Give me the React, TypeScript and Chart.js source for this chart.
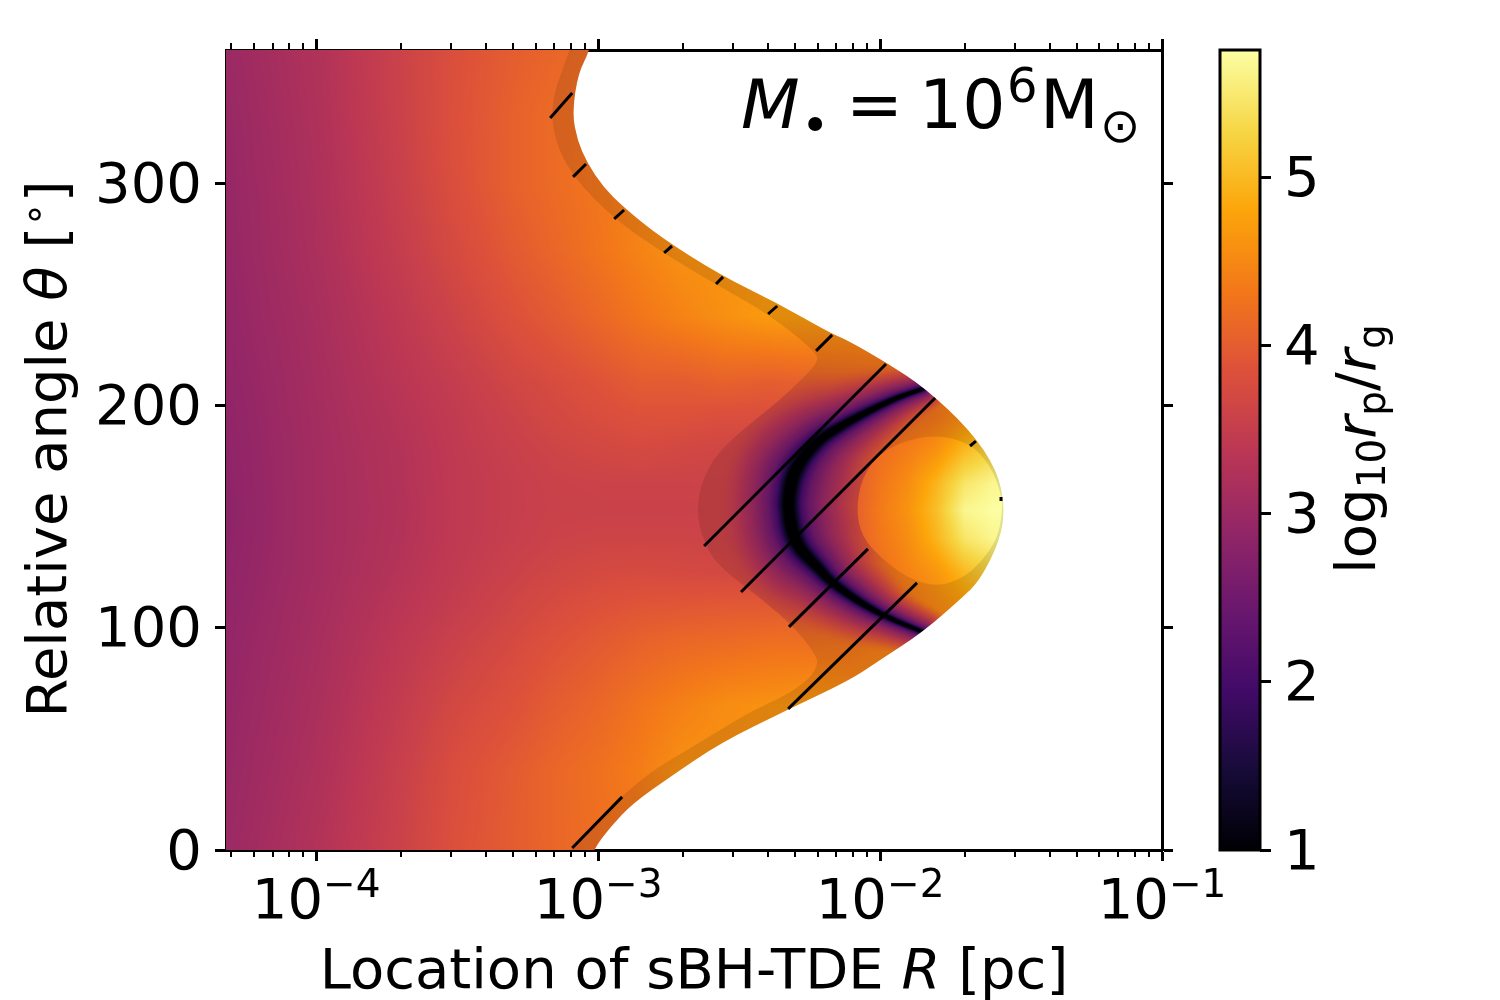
import React, { useEffect, useRef } from "react";
import { Chart, registerables } from "chart.js";

Chart.register(...registerables);

const X_MIN_LOG = -4.32;
const X_MAX_LOG = -1;
const Y_MAX = 360;
const CB_MIN = 1;
const CB_MAX = 5.76;
const X_MAJOR_EXP = [-4, -3, -2, -1];
const X_MINOR_MULT = [2, 3, 4, 5, 6, 7, 8, 9];
const Y_TICKS = [0, 100, 200, 300];
const CB_TICKS = [1, 2, 3, 4, 5];

// Inferno colour stops (evenly spaced)
const INFERNO = [
  [0, 0, 4], [22, 11, 57], [66, 10, 104], [106, 23, 110], [147, 38, 103], [188, 55, 84],
  [221, 81, 58], [243, 120, 25], [252, 165, 10], [246, 215, 70], [252, 255, 164],
];

// log10 r_p / r_g: columns are log10 R, rows are theta
const FIELD_LOGR = [-4.32, -4, -3.7, -3.5, -3.3, -3.15, -3, -2.85, -2.7, -2.55, -2.4, -2.25, -2.1, -2, -1.9, -1.8, -1.7, -1.6, -1.5];
const FIELD_THETA = [370, 330, 300, 270, 240, 210, 195, 180, 165, 153, 140, 125, 110, 95, 65, 35, -10];
const FIELD_VALUES = [
  [3.0, 3.25, 3.6, 3.82, 4.0, 4.08, 4.2, 4.25, 4.25, 4.25, 4.25, 4.25, 4.25, 4.25, 4.25, 4.25, 4.25, 4.25, 4.25],
  [2.96, 3.22, 3.58, 3.84, 4.05, 4.18, 4.28, 4.35, 4.35, 4.35, 4.35, 4.35, 4.35, 4.35, 4.35, 4.35, 4.35, 4.35, 4.35],
  [2.94, 3.2, 3.55, 3.82, 4.05, 4.18, 4.3, 4.45, 4.5, 4.5, 4.5, 4.5, 4.5, 4.5, 4.5, 4.5, 4.5, 4.5, 4.5],
  [2.93, 3.18, 3.5, 3.74, 3.97, 4.12, 4.28, 4.45, 4.6, 4.65, 4.65, 4.65, 4.65, 4.65, 4.65, 4.65, 4.65, 4.65, 4.65],
  [2.91, 3.14, 3.42, 3.62, 3.84, 3.98, 4.13, 4.3, 4.45, 4.58, 4.7, 4.72, 4.7, 4.7, 4.7, 4.7, 4.7, 4.7, 4.7],
  [2.88, 3.11, 3.35, 3.5, 3.66, 3.76, 3.87, 3.98, 3.98, 4.05, 4.0, 4.05, 4.1, 4.15, 4.2, 4.3, 4.45, 4.6, 4.7],
  [2.86, 3.1, 3.31, 3.46, 3.6, 3.7, 3.78, 3.85, 3.85, 3.8, 3.8, 3.85, 3.95, 4.05, 4.15, 4.3, 4.55, 4.85, 4.95],
  [2.85, 3.09, 3.28, 3.44, 3.55, 3.63, 3.68, 3.72, 3.68, 3.65, 3.65, 3.75, 3.95, 4.2, 4.38, 4.6, 5.0, 5.25, 5.35],
  [2.84, 3.09, 3.27, 3.43, 3.52, 3.58, 3.6, 3.6, 3.6, 3.6, 3.6, 3.7, 3.98, 4.3, 4.55, 4.95, 5.45, 5.65, 5.7],
  [2.83, 3.09, 3.26, 3.43, 3.52, 3.57, 3.58, 3.58, 3.58, 3.6, 3.6, 3.7, 4.0, 4.35, 4.62, 5.05, 5.65, 5.75, 5.76],
  [2.84, 3.09, 3.27, 3.43, 3.53, 3.6, 3.62, 3.62, 3.62, 3.6, 3.6, 3.7, 3.98, 4.3, 4.55, 4.95, 5.45, 5.65, 5.7],
  [2.86, 3.09, 3.3, 3.46, 3.58, 3.66, 3.72, 3.74, 3.72, 3.7, 3.7, 3.8, 3.95, 4.2, 4.45, 4.65, 5.0, 5.25, 5.35],
  [2.88, 3.11, 3.35, 3.5, 3.65, 3.75, 3.84, 3.9, 3.92, 3.95, 3.95, 4.0, 4.05, 4.15, 4.28, 4.5, 4.7, 4.9, 4.95],
  [2.9, 3.13, 3.4, 3.57, 3.72, 3.85, 3.95, 4.05, 4.12, 4.15, 4.2, 4.2, 4.25, 4.35, 4.4, 4.45, 4.55, 4.6, 4.7],
  [2.93, 3.17, 3.48, 3.7, 3.85, 4.0, 4.12, 4.28, 4.42, 4.55, 4.6, 4.65, 4.6, 4.6, 4.6, 4.6, 4.6, 4.6, 4.6],
  [2.96, 3.21, 3.55, 3.8, 3.98, 4.12, 4.24, 4.38, 4.6, 4.6, 4.6, 4.6, 4.6, 4.6, 4.6, 4.6, 4.6, 4.6, 4.6],
  [3.0, 3.28, 3.6, 3.85, 4.0, 4.12, 4.2, 4.25, 4.25, 4.25, 4.25, 4.25, 4.25, 4.25, 4.25, 4.25, 4.25, 4.25, 4.25],
];

// Outline of the coloured domain
const OUTER_LOGR = [-5, -3.0, -3.028, -3.071, -3.092, -3.074, -3.039, -2.982, -2.911, -2.78, -2.567, -2.365, -2.177, -2.117, -1.975, -1.84, -1.681, -1.585, -1.557, -1.574, -1.645, -1.706, -1.848, -2.0, -2.106, -2.33, -2.567, -2.745, -2.876, -2.957, -3.018, -3.06, -5];
const OUTER_THETA = [380, 380, 360, 349.7, 331.7, 319.5, 309.2, 298.4, 289.4, 275.9, 258.8, 246.2, 232.7, 229.5, 219.2, 207.9, 189, 171, 154.4, 139.5, 121.5, 113.9, 98.1, 85.5, 76.5, 63, 48.2, 32.9, 21.2, 10.4, 0, -15, -15];

// Outline of the undarkened main region
const MAIN_LOGR = [-5, -3.06, -3.099, -3.167, -3.156, -3.089, -2.947, -2.77, -2.578, -2.39, -2.223, -2.223, -2.255, -2.355, -2.532, -2.613, -2.656, -2.621, -2.557, -2.415, -2.294, -2.223, -2.223, -2.248, -2.33, -2.45, -2.567, -2.684, -2.805, -2.911, -3.004, -3.099, -3.16, -5];
const MAIN_THETA = [380, 380, 360, 337.5, 319.5, 302.9, 284.4, 268.7, 254.3, 240.8, 223.7, 219.6, 214.7, 202.5, 184.5, 172.4, 154.4, 136.4, 126, 112.5, 99, 86.9, 82.8, 77.4, 69.8, 63, 54, 45, 36, 24.8, 13.5, 0.9, -15, -15];

// Outline of the bright disc
const DISC_LOGR = [-2.085, -2.064, -2.0, -1.904, -1.798, -1.681, -1.61, -1.574, -1.564, -1.585, -1.645, -1.706, -1.798, -1.904, -2.0, -2.064];
const DISC_THETA = [153, 167.9, 178.7, 184.5, 186.8, 183.2, 173.3, 162, 153, 139.5, 129.2, 122.4, 118.4, 122.4, 131.9, 140.9];

// Dark crescent
const CRESCENT_LOGR = [-1.848, -1.94, -2.046, -2.142, -2.213, -2.273, -2.309, -2.323, -2.323, -2.312, -2.284, -2.223, -2.167, -2.071, -1.975, -1.848];
const CRESCENT_THETA = [207.5, 203.4, 197.1, 190.4, 184.5, 176.4, 167.9, 158.9, 153, 144, 135.9, 127.4, 120.2, 111.6, 104.9, 98.1];
const CRESCENT_SPREAD = [0.25, 0.33, 0.45, 0.58, 0.72, 0.88, 1, 1, 1, 1, 0.9, 0.72, 0.58, 0.45, 0.33, 0.25];
const GLOW_DIST = [0, 4.5, 7, 12, 20, 35, 60, 100, 160];
const GLOW_VALUE = [1, 1, 1.3, 2.0, 2.5, 3.0, 3.6, 4.4, 6];

// Black contour segments: [logR0, theta0, logR1, theta1]
const CONTOURS = [
  [-3.17, 329.4, -3.092, 340.7],
  [-3.089, 302.9, -3.043, 308.7],
  [-2.943, 284, -2.908, 288],
  [-2.766, 268.7, -2.738, 271.8],
  [-2.582, 254.7, -2.557, 257.9],
  [-2.397, 241.2, -2.365, 244.8],
  [-2.227, 224.6, -2.17, 231.8],
  [-2.624, 136.8, -1.979, 218.7],
  [-2.493, 116.1, -1.805, 203.4],
  [-2.323, 100.4, -2.043, 135.5],
  [-2.326, 63.5, -1.869, 120.2],
  [-1.681, 181.8, -1.66, 184],
  [-1.571, 158.9, -1.571, 157],
  [-3.092, 0.9, -2.915, 23.9],
];

const FONT = '"DejaVu Sans"';
const TICK_SIZE = 56;

type Run = { t: string; size: number; italic?: boolean; dy?: number; at?: number };

const X_LABEL: Run[] = [
  { t: "Location of sBH-TDE ", size: 56 },
  { t: "R", size: 56, italic: true },
  { t: " [pc]", size: 56 },
];
const Y_LABEL: Run[] = [
  { t: "Relative angle ", size: 56 },
  { t: "θ", size: 56, italic: true },
  { t: " [", size: 56 },
  { t: "∘", size: 39, dy: -19 },
  { t: "]", size: 56 },
];
const CB_LABEL: Run[] = [
  { t: "log", size: 56 },
  { t: "10", size: 39, dy: 10 },
  { t: "r", size: 56, italic: true },
  { t: "p", size: 39, dy: 10 },
  { t: "/", size: 56 },
  { t: "r", size: 56, italic: true },
  { t: "g", size: 39, dy: 10 },
];
// "at" is the distance of each piece from the start of the annotation
const ANNOTATION: Run[] = [
  { t: "M", size: 68, italic: true, at: 0 },
  { t: "•", size: 48, dy: 14, at: 60 },
  { t: "=", size: 68, at: 105 },
  { t: "10", size: 68, at: 178 },
  { t: "6", size: 48, dy: -26, at: 266 },
  { t: "M", size: 68, at: 299 },
  { t: "⊙", size: 48, dy: 14, at: 359 },
];

const fontOf = (r: Run) => `${r.italic ? "italic " : ""}${r.size}px ${FONT}`;

function runsWidth(ctx: CanvasRenderingContext2D, runs: Run[]) {
  let w = 0;
  for (const r of runs) {
    ctx.font = fontOf(r);
    w += ctx.measureText(r.t).width;
  }
  return w;
}

function drawRuns(ctx: CanvasRenderingContext2D, runs: Run[], x: number, y: number) {
  let cx = x;
  ctx.textAlign = "left";
  ctx.textBaseline = "alphabetic";
  ctx.fillStyle = "#000";
  for (const r of runs) {
    ctx.font = fontOf(r);
    if (r.at !== undefined) cx = x + r.at;
    ctx.fillText(r.t, cx, y + (r.dy || 0));
    cx += ctx.measureText(r.t).width;
  }
}

function infernoAt(v: number): [number, number, number] {
  const t = Math.max(0, Math.min(1, (v - CB_MIN) / (CB_MAX - CB_MIN))) * (INFERNO.length - 1);
  const i = Math.min(INFERNO.length - 2, Math.floor(t));
  const f = t - i;
  const a = INFERNO[i];
  const b = INFERNO[i + 1];
  return [a[0] + (b[0] - a[0]) * f, a[1] + (b[1] - a[1]) * f, a[2] + (b[2] - a[2]) * f];
}

function smoothPath(ctx: CanvasRenderingContext2D, pts: number[][]) {
  const n = pts.length;
  const mid = (a: number[], b: number[]) => [(a[0] + b[0]) / 2, (a[1] + b[1]) / 2];
  const m0 = mid(pts[n - 1], pts[0]);
  ctx.moveTo(m0[0], m0[1]);
  for (let i = 0; i < n; i++) {
    const m = mid(pts[i], pts[(i + 1) % n]);
    ctx.quadraticCurveTo(pts[i][0], pts[i][1], m[0], m[1]);
  }
  ctx.closePath();
}

function catmull(p: number[], k: number) {
  const out: number[] = [];
  for (let i = 0; i < p.length - 1; i++) {
    const a = p[Math.max(0, i - 1)], b = p[i], c = p[i + 1], d = p[Math.min(p.length - 1, i + 2)];
    for (let j = 0; j < k; j++) {
      const t = j / k;
      out.push(0.5 * (2 * b + (c - a) * t + (2 * a - 5 * b + 4 * c - d) * t * t + (3 * b - a - 3 * c + d) * t * t * t));
    }
  }
  out.push(p[p.length - 1]);
  return out;
}

const heatmapPlugin = {
  id: "heatmap",
  beforeDatasetsDraw(chart: any) {
    const { ctx, chartArea, scales } = chart;
    const { left, top, right, bottom } = chartArea;
    const W = Math.round(right - left);
    const H = Math.round(bottom - top);
    const px = (l: number) => scales.x.getPixelForValue(Math.pow(10, l));
    const py = (t: number) => scales.y.getPixelForValue(t);

    const colPx = FIELD_LOGR.map(px);
    const rowPx = FIELD_THETA.map(py);
    const colMap = new Int32Array(W), colF = new Float32Array(W);
    for (let i = 0, c = 0; i < W; i++) {
      const x = left + i + 0.5;
      while (c < colPx.length - 2 && x > colPx[c + 1]) c++;
      colMap[i] = c;
      colF[i] = Math.max(0, Math.min(1, (x - colPx[c]) / (colPx[c + 1] - colPx[c])));
    }
    const rowMap = new Int32Array(H), rowF = new Float32Array(H);
    for (let j = 0, r = 0; j < H; j++) {
      const y = top + j + 0.5;
      while (r < rowPx.length - 2 && y > rowPx[r + 1]) r++;
      rowMap[j] = r;
      rowF[j] = Math.max(0, Math.min(1, (y - rowPx[r]) / (rowPx[r + 1] - rowPx[r])));
    }

    const cx = catmull(CRESCENT_LOGR.map(px), 4);
    const cy = catmull(CRESCENT_THETA.map(py), 4);
    const cs = catmull(CRESCENT_SPREAD, 4);

    const glowAt = (d: number) => {
      for (let i = 0; i < GLOW_DIST.length - 1; i++) {
        if (d <= GLOW_DIST[i + 1]) {
          return GLOW_VALUE[i] + ((GLOW_VALUE[i + 1] - GLOW_VALUE[i]) * (d - GLOW_DIST[i])) / (GLOW_DIST[i + 1] - GLOW_DIST[i]);
        }
      }
      return 9;
    };

    const mk = () => {
      const c = document.createElement("canvas");
      c.width = W;
      c.height = H;
      return c;
    };
    const plain = mk();
    const glowed = mk();
    const pCtx = plain.getContext("2d")!;
    const gCtx = glowed.getContext("2d")!;
    const pImg = pCtx.createImageData(W, H);
    const gImg = gCtx.createImageData(W, H);

    const k = 0.25;
    const gx0 = px(-2.75), gx1 = px(-1.5), gy0 = py(230), gy1 = py(55);
    for (let j = 0; j < H; j++) {
      const r = rowMap[j], fy = rowF[j];
      const y = top + j + 0.5;
      for (let i = 0; i < W; i++) {
        const c = colMap[i], fx = colF[i];
        const f =
          FIELD_VALUES[r][c] * (1 - fx) * (1 - fy) +
          FIELD_VALUES[r][c + 1] * fx * (1 - fy) +
          FIELD_VALUES[r + 1][c] * (1 - fx) * fy +
          FIELD_VALUES[r + 1][c + 1] * fx * fy;
        const idx = (j * W + i) * 4;
        const [a0, a1, a2] = infernoAt(f);
        pImg.data[idx] = a0; pImg.data[idx + 1] = a1; pImg.data[idx + 2] = a2; pImg.data[idx + 3] = 255;

        let v = f;
        const x = left + i + 0.5;
        if (x > gx0 && x < gx1 && y > gy0 && y < gy1) {
          let best = 1e9;
          for (let s = 0; s < cx.length - 1; s++) {
            const dx = cx[s + 1] - cx[s], dy = cy[s + 1] - cy[s];
            const len = dx * dx + dy * dy;
            let t = ((x - cx[s]) * dx + (y - cy[s]) * dy) / len;
            t = t < 0 ? 0 : t > 1 ? 1 : t;
            const ex = x - (cx[s] + t * dx), ey = y - (cy[s] + t * dy);
            const sp = cs[s] + t * (cs[s + 1] - cs[s]);
            const d = Math.sqrt(ex * ex + ey * ey) / sp;
            if (d < best) best = d;
          }
          const g = glowAt(best);
          const h = Math.max(0, Math.min(1, 0.5 + (0.5 * (f - g)) / k));
          v = f * (1 - h) + g * h - k * h * (1 - h);
        }
        const [b0, b1, b2] = infernoAt(v);
        gImg.data[idx] = b0; gImg.data[idx + 1] = b1; gImg.data[idx + 2] = b2; gImg.data[idx + 3] = 255;
      }
    }
    pCtx.putImageData(pImg, 0, 0);
    gCtx.putImageData(gImg, 0, 0);

    const outerPts = OUTER_LOGR.map((l, i) => [px(l), py(OUTER_THETA[i])]);
    const mainPts = MAIN_LOGR.map((l, i) => [px(l), py(MAIN_THETA[i])]);
    const discPts = DISC_LOGR.map((l, i) => [px(l), py(DISC_THETA[i])]);

    ctx.save();
    ctx.beginPath();
    ctx.rect(left, top, W, H);
    ctx.clip();

    ctx.save();
    ctx.beginPath();
    smoothPath(ctx, outerPts);
    ctx.clip();
    ctx.drawImage(glowed, left, top);
    ctx.fillStyle = "rgba(0,0,0,0.1)";
    ctx.fillRect(left, top, W, H);
    ctx.restore();

    ctx.save();
    ctx.beginPath();
    smoothPath(ctx, mainPts);
    smoothPath(ctx, discPts);
    ctx.clip();
    ctx.drawImage(plain, left, top);
    ctx.restore();

    ctx.restore();
  },
  afterDraw(chart: any) {
    const { ctx, chartArea, scales } = chart;
    const { top, bottom } = chartArea;

    // minor log ticks on the bottom and top
    ctx.save();
    ctx.strokeStyle = "#000";
    ctx.lineWidth = 2;
    for (let e = -5; e < -1; e++) {
      for (const m of X_MINOR_MULT) {
        const v = m * Math.pow(10, e);
        if (Math.log10(v) < X_MIN_LOG) continue;
        const x = Math.round(scales.x.getPixelForValue(v));
        ctx.beginPath();
        ctx.moveTo(x, bottom);
        ctx.lineTo(x, bottom + 7);
        ctx.moveTo(x, top);
        ctx.lineTo(x, top - 7);
        ctx.stroke();
      }
    }

    // x tick labels with superscript exponents
    for (const e of X_MAJOR_EXP) {
      const runs: Run[] = [
        { t: "10", size: TICK_SIZE },
        { t: "−" + Math.abs(e), size: 39, dy: -21 },
      ];
      const w = runsWidth(ctx, runs);
      drawRuns(ctx, runs, scales.x.getPixelForValue(Math.pow(10, e)) - w / 2, 918);
    }

    // axis titles
    drawRuns(ctx, X_LABEL, 694 - runsWidth(ctx, X_LABEL) / 2, 988);
    ctx.save();
    ctx.translate(66, 449);
    ctx.rotate(-Math.PI / 2);
    drawRuns(ctx, Y_LABEL, -runsWidth(ctx, Y_LABEL) / 2, 0);
    ctx.restore();
    ctx.save();
    ctx.translate(1375, 449);
    ctx.rotate(-Math.PI / 2);
    drawRuns(ctx, CB_LABEL, -runsWidth(ctx, CB_LABEL) / 2, 0);
    ctx.restore();

    // annotation
    drawRuns(ctx, ANNOTATION, 741, 128);

    // colour bar
    const cb = scales.cb;
    const y0 = cb.getPixelForValue(CB_MIN);
    const y1 = cb.getPixelForValue(CB_MAX);
    const grad = ctx.createLinearGradient(0, y0, 0, y1);
    INFERNO.forEach((c, i) => grad.addColorStop(i / (INFERNO.length - 1), `rgb(${c[0]},${c[1]},${c[2]})`));
    ctx.fillStyle = grad;
    ctx.fillRect(1220, y1, 40, y0 - y1);
    ctx.lineWidth = 3;
    ctx.strokeStyle = "#000";
    ctx.strokeRect(1220, y1, 40, y0 - y1);
    ctx.restore();
  },
};

const commonAxis = {
  grid: { drawOnChartArea: false, tickLength: 11, tickWidth: 3, color: "#000" },
  border: { display: true, width: 3, color: "#000" },
};

export default function App() {
  const ref = useRef<HTMLCanvasElement>(null);
  useEffect(() => {
    document.body.style.margin = "0";
    const xLimits = { type: "logarithmic", min: Math.pow(10, X_MIN_LOG), max: Math.pow(10, X_MAX_LOG) };
    const majorX = (s: any) => {
      s.ticks = X_MAJOR_EXP.map((e) => ({ value: Math.pow(10, e), major: true }));
    };
    const chart = new Chart(ref.current!, {
      type: "line",
      data: {
        datasets: CONTOURS.map((c) => ({
          data: [
            { x: Math.pow(10, c[0]), y: c[1] },
            { x: Math.pow(10, c[2]), y: c[3] },
          ],
          borderColor: "#000",
          borderWidth: 3,
          pointRadius: 0,
          tension: 0,
        })),
      },
      options: {
        responsive: false,
        animation: false,
        events: [],
        devicePixelRatio: 1,
        layout: { padding: 0 },
        plugins: { legend: { display: false }, tooltip: { enabled: false } },
        scales: {
          x: {
            ...xLimits,
            position: "bottom",
            ...commonAxis,
            afterBuildTicks: majorX,
            afterFit: (s: any) => { s.height = 150; },
            ticks: { autoSkip: false, maxRotation: 0, callback: () => "" },
          },
          xTop: {
            ...xLimits,
            position: "top",
            ...commonAxis,
            afterBuildTicks: majorX,
            afterFit: (s: any) => { s.height = 50; },
            ticks: { autoSkip: false, maxRotation: 0, callback: () => "" },
          },
          y: {
            type: "linear",
            min: 0,
            max: Y_MAX,
            position: "left",
            ...commonAxis,
            afterBuildTicks: (s: any) => { s.ticks = Y_TICKS.map((value) => ({ value })); },
            afterFit: (s: any) => { s.width = 226; },
            ticks: { autoSkip: false, padding: 13, labelOffset: 4, color: "#000", font: { family: FONT, size: TICK_SIZE } },
          },
          yRight: {
            type: "linear",
            min: 0,
            max: Y_MAX,
            position: "right",
            ...commonAxis,
            afterBuildTicks: (s: any) => { s.ticks = Y_TICKS.map((value) => ({ value })); },
            afterFit: (s: any) => { s.width = 98; },
            ticks: { autoSkip: false, callback: () => "" },
          },
          cb: {
            type: "linear",
            min: CB_MIN,
            max: CB_MAX,
            position: "right",
            grid: { drawOnChartArea: false, tickLength: 11, tickWidth: 3, color: "#000" },
            border: { display: false },
            afterBuildTicks: (s: any) => { s.ticks = CB_TICKS.map((value) => ({ value })); },
            afterFit: (s: any) => { s.width = 240; },
            ticks: { autoSkip: false, padding: 13, labelOffset: 4, color: "#000", font: { family: FONT, size: TICK_SIZE } },
          },
        },
      } as any,
      plugins: [heatmapPlugin],
    } as any);
    return () => chart.destroy();
  }, []);
  return (
    <div style={{ position: "absolute", left: 0, top: 0, width: 1500, height: 1000 }}>
      <canvas ref={ref} width={1500} height={1000} style={{ display: "block" }} />
    </div>
  );
}
